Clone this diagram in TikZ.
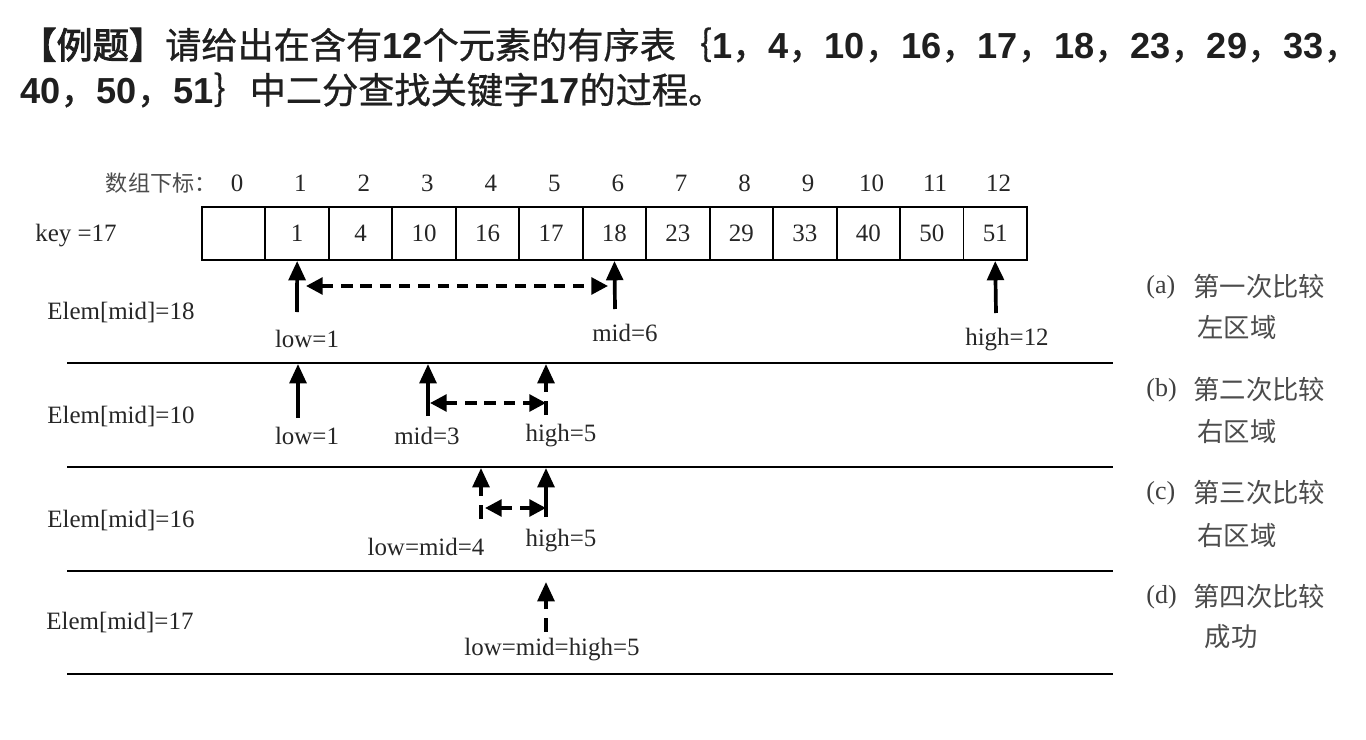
\documentclass[tikz,border=0pt]{standalone}
\usepackage{fontspec}
\setmainfont{Liberation Serif}
\newfontfamily\cjk{Noto Sans CJK SC}
\newfontfamily\cjkt{Noto Sans CJK SC}[FakeBold=0.8]
\newfontfamily\cjktb{Noto Sans CJK SC}[FakeBold=2.5]
\newfontfamily\titlenum{Liberation Sans Bold}
\newcommand\ttnum[1]{{\titlenum #1}}
\usetikzlibrary{arrows.meta}
\tikzset{
  title/.style={font=\fontsize{20.6}{24}\selectfont\cjkt, inner sep=0pt, text=black!88},
  cell/.style={draw, line width=1.1pt, minimum width=1.27cm, minimum height=1.06cm, inner sep=0pt, font=\fontsize{14.2}{16}\selectfont, text=black!85},
  lbl/.style={font=\fontsize{14.2}{16}\selectfont, inner sep=0pt, text=black!85},
  ptr/.style={line width=2.1pt, -{Triangle[length=11pt,width=9.5pt]}},
  dptr/.style={line width=2.1pt, dash pattern=on 6.5pt off 4.5pt, {Triangle[length=9.5pt,width=9.5pt]}-{Triangle[length=9.5pt,width=9.5pt]}},
  dstem/.style={line width=2.1pt, dash pattern=on 8pt off 5pt, -{Triangle[length=11pt,width=9.5pt]}},
  sep/.style={line width=1.1pt},
  rl/.style={font=\fontsize{15}{18}\selectfont\cjk, text=black!70, inner sep=0pt},
  rlab/.style={font=\fontsize{14.8}{16}\selectfont, text=black!75, inner sep=0pt},
}
\begin{document}
\begin{tikzpicture}[x=0.02cm,y=-0.02cm]
\useasboundingbox (0,0) rectangle (1366,740);
\fill[white] (0,0) rectangle (1366,740);
% title
\node[title, anchor=west] (t1) at (20,45) {{\cjktb 【例题】}请给出在含有\ttnum{12}个元素的有序表｛\ttnum{1}，\ttnum{4}，\ttnum{10}，\ttnum{16}，\ttnum{17}，\ttnum{18}，\ttnum{23}，\ttnum{29}，\ttnum{33}，};
\node[title, anchor=west] (t2) at (20,90) {\ttnum{40}，\ttnum{50}，\ttnum{51}｝中二分查找关键字\ttnum{17}的过程。};
% array
\node[lbl, anchor=east, font=\fontsize{12.6}{14}\selectfont\cjk, text=black!70] (idx) at (217,183) {数组下标：};
\node[lbl, anchor=west] (key) at (35,236) {key =17};
\foreach \i/\v in {0/,1/1,2/4,3/10,4/16,5/17,6/18,7/23,8/29,9/33,10/40,11/50,12/51}{
  \node[cell] (c\i) at ({233.7+63.46*\i},233.5) {\v};
  \node[lbl] (n\i) at ({237+63.46*\i},183) {\i};
}
% separators
\coordinate (s1l) at (67,363); \coordinate (s1r) at (1113,363);
\coordinate (s2l) at (67,467); \coordinate (s2r) at (1113,467);
\coordinate (s3l) at (67,571); \coordinate (s3r) at (1113,571);
\coordinate (s4l) at (67,674); \coordinate (s4r) at (1113,674);
\draw[sep] (s1l) -- (s1r);
\draw[sep] (s2l) -- (s2r);
\draw[sep] (s3l) -- (s3r);
\draw[sep] (s4l) -- (s4r);
% row 1
\node[lbl, anchor=west] (e1) at (47,313) {Elem[mid]=18};
\node[lbl] (low1) at (307,339) {low=1};
\node[lbl] (mid1) at (625,333) {mid=6};
\node[lbl] (high1) at (1007,340) {high=12};
\coordinate (la) at (297,312);
\coordinate (ma) at (615,309);
\coordinate (ha) at (996,313);
\draw[ptr] (la) -- (c1.south);
\draw[ptr] (ma) -- (c6.south);
\draw[ptr] (ha) -- (c12.south);
\coordinate (d1a) at (306,286); \coordinate (d1b) at (608,286);
\draw[dptr] (d1a) -- (d1b);
% row 2
\node[lbl, anchor=west] (e2) at (47,417) {Elem[mid]=10};
\node[lbl] (low2) at (307,436) {low=1};
\node[lbl] (mid2) at (427,436) {mid=3};
\node[lbl] (high2) at (561,436) {high=5};
\coordinate (l2b) at (298,418); \coordinate (l2t) at (298,364);
\coordinate (m2b) at (428,416); \coordinate (m2t) at (428,364);
\coordinate (h2b) at (546,415); \coordinate (h2t) at (546,364);
\draw[ptr] (l2b) -- (l2t);
\draw[ptr] (m2b) -- (m2t);
\draw[dstem] (h2b) -- (h2t);
\coordinate (d2a) at (430,403); \coordinate (d2b) at (546,403);
\draw[dptr] (d2a) -- (d2b);
% row 3
\node[lbl, anchor=west] (e3) at (47,521) {Elem[mid]=16};
\node[lbl] (lm3) at (426,547) {low=mid=4};
\node[lbl] (high3) at (561,541) {high=5};
\coordinate (l3b) at (481,519); \coordinate (l3t) at (481,468);
\coordinate (h3b) at (546,517); \coordinate (h3t) at (546,468);
\draw[dstem] (l3b) -- (l3t);
\draw[ptr] (h3b) -- (h3t);
\coordinate (d3a) at (485,508); \coordinate (d3b) at (546,508);
\draw[dptr] (d3a) -- (d3b);
% row 4
\node[lbl, anchor=west] (e4) at (46,623) {Elem[mid]=17};
\node[lbl] (lmh4) at (552,650) {low=mid=high=5};
\coordinate (p4b) at (546,632); \coordinate (p4t) at (546,582);
\draw[dstem] (p4b) -- (p4t);
% right labels
\node[rlab, anchor=west] (ra) at (1146,287) {(a)};
\node[rl, anchor=west] (rat) at (1193,286) {第一次比较};
\node[rl] (rab) at (1237,327) {左区域};
\node[rlab, anchor=west] (rb) at (1146,390) {(b)};
\node[rl, anchor=west] (rbt) at (1193,389) {第二次比较};
\node[rl] (rbb) at (1237,431) {右区域};
\node[rlab, anchor=west] (rc) at (1146,493) {(c)};
\node[rl, anchor=west] (rct) at (1193,492) {第三次比较};
\node[rl] (rcb) at (1237,535) {右区域};
\node[rlab, anchor=west] (rd) at (1146,597) {(d)};
\node[rl, anchor=west] (rdt) at (1193,596) {第四次比较};
\node[rl] (rdb) at (1231,637) {成功};
\end{tikzpicture}
\end{document}
